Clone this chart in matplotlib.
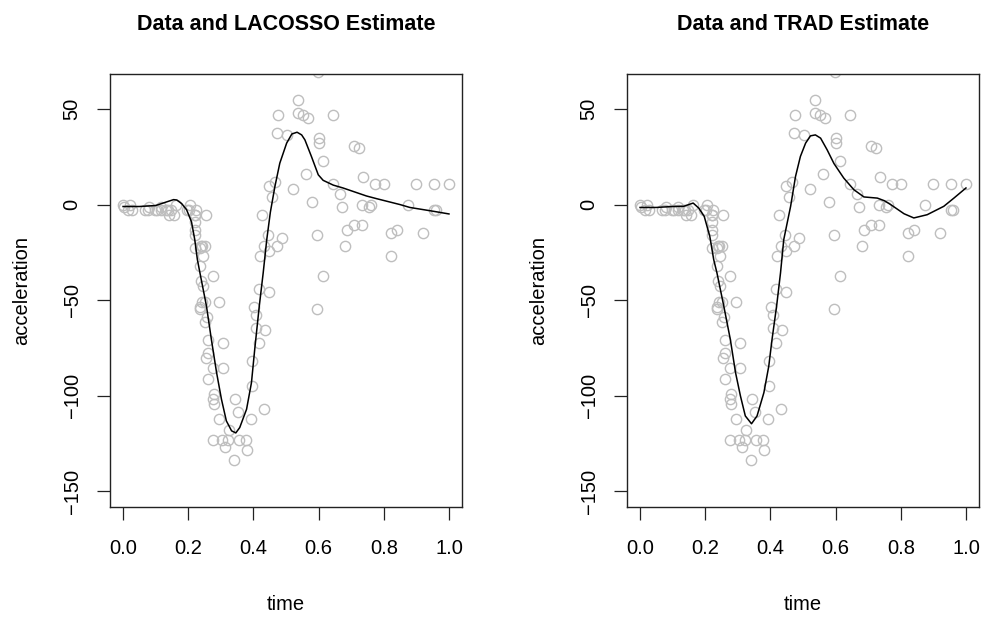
import numpy as np
import matplotlib
matplotlib.use("Agg")
import matplotlib.pyplot as plt

plt.rcParams['font.family'] = ['Liberation Sans', 'DejaVu Sans']

# motorcycle crash data: time after impact (ms) and head acceleration (g)
times_ms = [2.4, 2.6, 3.2, 3.6, 4.0, 6.2, 6.6, 6.8, 7.8, 8.2, 8.8, 8.8, 9.6, 10.0, 10.2, 10.6,
            11.0, 11.4, 13.2, 13.6, 13.8, 14.6, 14.6, 14.6, 14.6, 14.6, 14.6, 14.8, 15.4, 15.4,
            15.4, 15.4, 15.6, 15.6, 15.8, 15.8, 16.0, 16.0, 16.2, 16.2, 16.2, 16.4, 16.4, 16.6,
            16.8, 16.8, 16.8, 17.6, 17.6, 17.6, 17.6, 17.8, 17.8, 18.6, 18.6, 19.2, 19.4, 19.4,
            19.6, 20.2, 20.4, 21.2, 21.4, 21.8, 22.0, 23.2, 23.4, 24.0, 24.2, 24.2, 24.6, 25.0,
            25.0, 25.4, 25.4, 25.6, 26.0, 26.2, 26.2, 26.4, 27.0, 27.2, 27.2, 27.2, 27.6, 28.2,
            28.4, 28.4, 28.6, 29.4, 30.2, 31.0, 31.2, 32.0, 32.0, 32.8, 33.4, 33.8, 34.4, 34.8,
            35.2, 35.2, 35.4, 35.6, 35.6, 36.2, 36.2, 38.0, 38.0, 39.2, 39.4, 40.0, 40.4, 41.6,
            41.6, 42.4, 42.8, 42.8, 43.0, 44.0, 44.4, 45.0, 46.6, 47.8, 47.8, 48.8, 50.6, 52.0,
            53.2, 55.0, 55.0, 55.4, 57.6]
accel = [0.0, -1.3, -2.7, 0.0, -2.7, -2.7, -2.7, -1.3, -2.7, -2.7, -1.3, -2.7, -2.7, -2.7, -5.4,
         -2.7, -5.4, 0.0, -2.7, -2.7, 0.0, -13.3, -5.4, -5.4, -9.3, -16.0, -22.8, -2.7, -22.8,
         -32.1, -53.5, -54.9, -40.2, -21.5, -21.5, -50.8, -42.9, -26.8, -21.5, -50.8, -61.7,
         -5.4, -80.4, -59.0, -71.0, -91.1, -77.7, -37.5, -85.6, -123.1, -101.9, -99.1, -104.4,
         -112.5, -50.8, -123.1, -85.6, -72.3, -127.2, -123.1, -117.9, -134.0, -101.9, -108.4,
         -123.1, -123.1, -128.5, -112.5, -95.1, -81.8, -53.5, -64.4, -57.6, -72.3, -44.3,
         -26.8, -5.4, -107.1, -21.5, -65.6, -16.0, -45.6, -24.2, 9.5, 4.0, 12.0, -21.5, 37.5,
         46.9, -17.4, 36.2, 75.0, 8.1, 54.9, 48.2, 46.9, 16.0, 45.6, 1.3, 75.0, -16.0, -54.9,
         69.6, 34.8, 32.1, -37.5, 22.8, 46.9, 10.7, 5.4, -1.3, -21.5, -13.3, 30.8, -10.7, 29.4,
         0.0, -10.7, 14.7, -1.3, 0.0, 10.7, 10.7, -26.8, -14.7, -13.3, 0.0, 10.7, -14.7, -2.7,
         10.7, -2.7, 10.7]

# fitted curves
lacosso_x = [0.0, 0.05, 0.10, 0.13, 0.155, 0.165, 0.18, 0.195, 0.21, 0.22, 0.228, 0.236, 0.256,
             0.271, 0.287, 0.302, 0.317, 0.333, 0.346, 0.358, 0.379, 0.394, 0.404, 0.418, 0.430,
             0.441, 0.452, 0.466, 0.481, 0.502, 0.518, 0.534, 0.548, 0.558, 0.578, 0.599, 0.614,
             0.645, 0.675, 0.747, 0.778, 0.85, 0.88, 0.952, 1.0]
lacosso_y = [-1.0, -1.0, -0.5, 1.2, 2.6, 2.4, 0.5, -2.7, -9.0, -18.3, -28.7, -35.8, -53.2,
             -70.6, -88.0, -102.0, -113.3, -118.5, -119.6, -116.8, -107.2, -93.3, -75.9, -53.2,
             -35.8, -18.3, -4.0, 9.5, 21.7, 32.2, 37.0, 37.9, 36.5, 33.9, 25.2, 15.6, 12.7,
             10.2, 8.7, 4.5, 3.1, 0.0, -1.5, -3.5, -4.9]

trad_x = [0.0, 0.05, 0.10, 0.134, 0.163, 0.18, 0.197, 0.214, 0.226, 0.236, 0.257, 0.277, 0.293,
          0.308, 0.323, 0.342, 0.359, 0.38, 0.395, 0.405, 0.419, 0.431, 0.441, 0.451, 0.462,
          0.477, 0.492, 0.508, 0.523, 0.538, 0.554, 0.574, 0.595, 0.625, 0.656, 0.687, 0.728,
          0.75, 0.769, 0.81, 0.84, 0.881, 0.932, 0.963, 1.0]
trad_y = [-1.5, -1.5, -1.0, -0.9, 0.8, -1.8, -6.2, -16.6, -28.8, -35.8, -53.2, -70.6, -88.0,
          -100.2, -110.7, -114.8, -110.7, -98.5, -84.6, -70.6, -53.2, -35.8, -18.3, -10.0, -0.9,
          14.7, 25.2, 32.2, 36.0, 36.5, 34.8, 28.7, 21.5, 13.9, 7.8, 4.0, 3.4, 2.0, 0.0, -4.8,
          -7.0, -5.3, -0.9, 3.4, 8.7]

t = np.array(times_ms)
time = (t - t.min()) / (t.max() - t.min())

panels = [("Data and LACOSSO Estimate", lacosso_x, lacosso_y, 110),
          ("Data and TRAD Estimate", trad_x, trad_y, 627)]

fig = plt.figure(figsize=(9.89, 6.17), dpi=100)
W, H = 989, 617

for title, cx, cy, left in panels:
    ax = fig.add_axes([left / W, (H - 507) / H, 352 / W, 433 / H])
    ax.plot(time, accel, 'o', mfc='none', mec='#BEBEBE', ms=7.4, mew=1.0, clip_on=True)
    ax.plot(cx, cy, color='black', lw=1.1)
    ax.set_xlim(-0.04, 1.04)
    ax.set_ylim(-158.4, 68.4)
    ax.set_xticks([0.0, 0.2, 0.4, 0.6, 0.8, 1.0])
    ax.set_xticklabels(["0.0", "0.2", "0.4", "0.6", "0.8", "1.0"])
    ax.set_yticks([-150, -100, -50, 0, 50])
    ax.set_yticklabels(["\u2212150", "\u2212100", "\u221250", "0", "50"])
    ax.tick_params(direction='out', length=9.4, width=0.9, labelsize=14.5, color='#222222')
    ax.tick_params(axis='x', pad=14)
    ax.tick_params(axis='y', pad=11)
    for lab in ax.get_yticklabels():
        lab.set_rotation(90)
        lab.set_va('center')
    for s in ax.spines.values():
        s.set_linewidth(1.0)
        s.set_color('#222222')
    ax.set_title(title, fontsize=15.5, fontweight='bold', pad=32)
    ax.set_xlabel("time", fontsize=14.5, labelpad=26)
    ax.set_ylabel("acceleration", fontsize=14.5, labelpad=23)

fig.savefig("out.png", dpi=100)
